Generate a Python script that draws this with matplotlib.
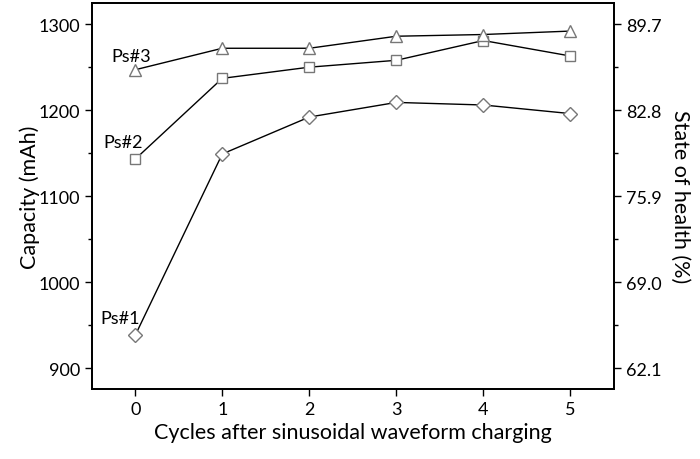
import matplotlib

matplotlib.use("Agg")

import matplotlib.pyplot as plt
from matplotlib.ticker import MultipleLocator

plt.rcParams["font.family"] = ["Lato", "DejaVu Sans"]

cycles = [0, 1, 2, 3, 4, 5]
ps1 = [938, 1149, 1192, 1209, 1206, 1196]
ps2 = [1143, 1237, 1250, 1258, 1281, 1263]
ps3 = [1247, 1272, 1272, 1286, 1288, 1292]
series_names = ["Ps#1", "Ps#2", "Ps#3"]
nominal = 1450
left_ticks = [900, 1000, 1100, 1200, 1300]
soh_labels = [f"{t / nominal * 100:.1f}" for t in left_ticks]

fig = plt.figure(figsize=(7, 4.6), dpi=100)
ax = fig.add_axes([0.131, 0.152, 0.746, 0.839])

markers = ["D", "s", "^"]
sizes = [7, 7, 8.5]
for vals, m, ms in zip([ps1, ps2, ps3], markers, sizes):
    ax.plot(cycles, vals, color="black", lw=1.0, marker=m, ms=ms,
            mfc="white", mec="#777777", mew=1.0, zorder=3)

# series labels next to the first point
ax.text(-0.17, 958, series_names[0], ha="center", va="center", fontsize=13)
ax.text(-0.14, 1163, series_names[1], ha="center", va="center", fontsize=13)
ax.text(-0.05, 1263, series_names[2], ha="center", va="center", fontsize=13)

ax.set_xlim(-0.5, 5.5)
ax.set_ylim(875.5, 1324.5)
ax.set_xticks(cycles)
ax.set_yticks(left_ticks)
ax.yaxis.set_minor_locator(MultipleLocator(50))
ax.tick_params(axis="both", which="major", direction="out", length=5, width=1, labelsize=13)
ax.tick_params(axis="y", which="minor", direction="out", length=3, width=1)
ax.set_xlabel("Cycles after sinusoidal waveform charging", fontsize=15.5, labelpad=4)
ax.set_ylabel("Capacity (mAh)", fontsize=15.5, labelpad=-1)
for spine in ax.spines.values():
    spine.set_linewidth(1.3)

ax2 = ax.twinx()
ax2.set_ylim(ax.get_ylim())
ax2.set_yticks(left_ticks)
ax2.set_yticklabels(soh_labels)
ax2.yaxis.set_minor_locator(MultipleLocator(50))
ax2.tick_params(axis="y", which="major", direction="out", length=5, width=1, labelsize=13)
ax2.tick_params(axis="y", which="minor", direction="out", length=3, width=1)
ax2.set_ylabel("State of health (%)", fontsize=15.5, rotation=270, labelpad=21)
for spine in ax2.spines.values():
    spine.set_linewidth(1.3)

fig.savefig("out.png", dpi=100)
